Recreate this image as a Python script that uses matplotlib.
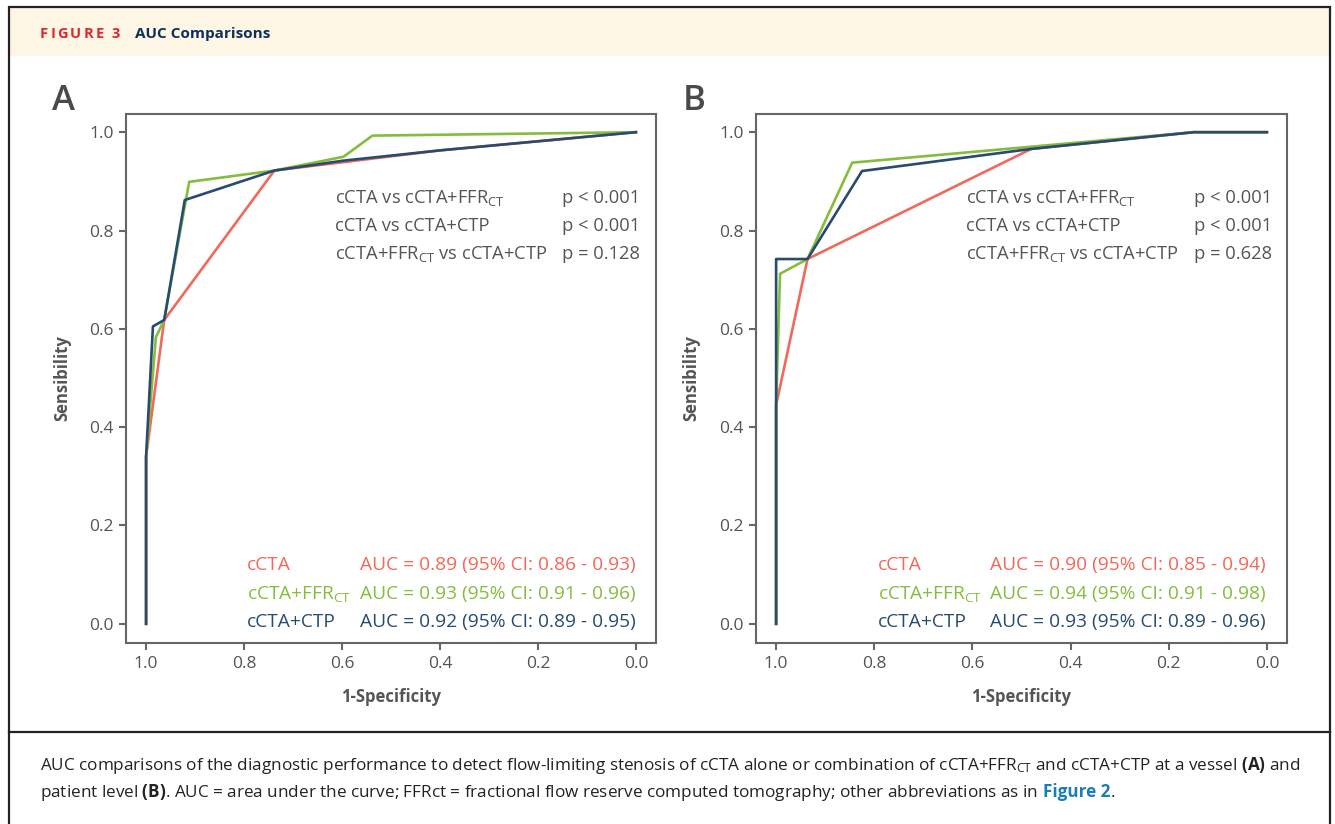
import matplotlib
matplotlib.use("Agg")
import matplotlib.pyplot as plt
from matplotlib.patches import Rectangle
from matplotlib.lines import Line2D

plt.rcParams["font.family"] = ["Open Sans", "DejaVu Sans"]
plt.rcParams["mathtext.fontset"] = "custom"
plt.rcParams["mathtext.rm"] = "Open Sans"
plt.rcParams["mathtext.bf"] = "Open Sans:bold"
plt.rcParams["mathtext.it"] = "Open Sans:italic"

RED = "#F0695A"
GREEN = "#84BD3D"
NAVY = "#284B70"
GRAY = "#555555"
SPINE = "#666666"

# panel A (vessel level): x = 1-specificity axis value, y = sensibility
a_ccta_x = [1.0, 1.0, 0.963, 0.738, 0.40, 0.0]
a_ccta_y = [0.0, 0.34, 0.618, 0.922, 0.963, 1.0]
a_ffr_x = [1.0, 1.0, 0.980, 0.963, 0.912, 0.738, 0.597, 0.538, 0.0]
a_ffr_y = [0.0, 0.34, 0.583, 0.618, 0.899, 0.922, 0.950, 0.993, 1.0]
a_ctp_x = [1.0, 1.0, 0.986, 0.963, 0.921, 0.738, 0.598, 0.40, 0.0]
a_ctp_y = [0.0, 0.34, 0.605, 0.618, 0.862, 0.922, 0.942, 0.963, 1.0]

# panel B (patient level)
b_ccta_x = [1.0, 1.0, 0.936, 0.480, 0.149, 0.0]
b_ccta_y = [0.0, 0.445, 0.742, 0.966, 1.0, 1.0]
b_ffr_x = [1.0, 1.0, 0.992, 0.936, 0.845, 0.149, 0.0]
b_ffr_y = [0.0, 0.445, 0.712, 0.742, 0.938, 1.0, 1.0]
b_ctp_x = [1.0, 1.0, 0.936, 0.825, 0.480, 0.149, 0.0]
b_ctp_y = [0.0, 0.742, 0.742, 0.921, 0.966, 1.0, 1.0]

model_names = ["cCTA", r"cCTA+FFR$_\mathregular{CT}$", "cCTA+CTP"]
model_colors = [RED, GREEN, NAVY]
a_auc = ["AUC = 0.89 (95% CI: 0.86 - 0.93)",
         "AUC = 0.93 (95% CI: 0.91 - 0.96)",
         "AUC = 0.92 (95% CI: 0.89 - 0.95)"]
b_auc = ["AUC = 0.90 (95% CI: 0.85 - 0.94)",
         "AUC = 0.94 (95% CI: 0.91 - 0.98)",
         "AUC = 0.93 (95% CI: 0.89 - 0.96)"]
comparisons = [r"cCTA vs cCTA+FFR$_\mathregular{CT}$",
               "cCTA vs cCTA+CTP",
               r"cCTA+FFR$_\mathregular{CT}$ vs cCTA+CTP"]
a_pvals = ["p < 0.001", "p < 0.001", "p = 0.128"]
b_pvals = ["p < 0.001", "p < 0.001", "p = 0.628"]
ticks = [0.0, 0.2, 0.4, 0.6, 0.8, 1.0]

W, H = 1335, 824
fig = plt.figure(figsize=(W / 100, H / 100), dpi=100)
renderer = fig.canvas.get_renderer()


def fx(px):
    return px / W


def fy(py):
    return 1 - py / H


# frame and header band
fig.patches.append(Rectangle((fx(9), fy(56)), fx(1321), 48 / H, transform=fig.transFigure,
                             facecolor="#FEF6E4", edgecolor="none", zorder=0))
fig.patches.append(Rectangle((fx(9), fy(830)), fx(1321), 823 / H, transform=fig.transFigure,
                             facecolor="none", edgecolor="#222222", lw=1.6, zorder=1))
fig.lines.append(Line2D([fx(9), fx(1330)], [fy(732), fy(732)], transform=fig.transFigure,
                        color="#222222", lw=1.6))

# letter-spaced "FIGURE 3"
xpos = 40
for ch in "FIGURE 3":
    t = fig.text(fx(xpos), fy(38), ch, color="#E2262E", fontsize=10.5, weight="bold", va="baseline")
    xpos = t.get_window_extent(renderer).x1 + 2.2
fig.text(fx(135), fy(38), "AUC Comparisons", color="#0D2F5C", fontsize=11, weight="bold", va="baseline")


def panel(left_px, right_px, letter, letter_px, curves, aucs, pvals, p_right):
    ax = fig.add_axes([fx(left_px), fy(643), (right_px - left_px) / W, 529 / H])
    for (xs, ys), c in zip(curves, model_colors):
        ax.plot(xs, ys, color=c, lw=1.9)
    ax.set_xlim(1.041, -0.041)
    ax.set_ylim(-0.039, 1.037)
    ax.set_xticks(ticks)
    ax.set_yticks(ticks)
    ax.set_xticklabels([f"{t:.1f}" for t in ticks])
    ax.set_yticklabels([f"{t:.1f}" for t in ticks])
    ax.tick_params(colors=SPINE, labelcolor=GRAY, labelsize=12.5, length=5, width=1.5, pad=4)
    for s in ax.spines.values():
        s.set_color(SPINE)
        s.set_linewidth(1.5)
    ax.set_xlabel("1-Specificity", color=GRAY, fontsize=12, weight="bold")
    ax.set_ylabel("Sensibility", color=GRAY, fontsize=12, weight="bold")
    ax.xaxis.set_label_coords(0.5, -0.102)
    ax.xaxis.label.set_va("center")
    ax.yaxis.set_label_coords(-0.121, 0.5)
    ax.yaxis.label.set_va("center")

    for i, (cmp, p) in enumerate(zip(comparisons, pvals)):
        yb = 0.832 - i * 0.053
        ax.text(0.395, yb, cmp, transform=ax.transAxes, color=GRAY, fontsize=13.2, va="baseline")
        ax.text(p_right, yb, p, transform=ax.transAxes, color=GRAY, fontsize=13.2,
                va="baseline", ha="right")
    for i, (nm, auc, c) in enumerate(zip(model_names, aucs, model_colors)):
        yb = 0.138 - i * 0.054
        ax.text(0.229, yb, nm, transform=ax.transAxes, color=c, fontsize=13.8, va="baseline")
        ax.text(0.441, yb, auc, transform=ax.transAxes, color=c, fontsize=13.8, va="baseline")

    fig.text(fx(letter_px), fy(110), letter, color="#4A4A4A", fontsize=25,
             weight="semibold", va="baseline")
    return ax


panel(126, 656, "A", 52,
      [(a_ccta_x, a_ccta_y), (a_ffr_x, a_ffr_y), (a_ctp_x, a_ctp_y)], a_auc, a_pvals, 0.970)
panel(756, 1287, "B", 683,
      [(b_ccta_x, b_ccta_y), (b_ffr_x, b_ffr_y), (b_ctp_x, b_ctp_y)], b_auc, b_pvals, 0.972)

# caption
cap_size = 12.3
cap1 = (r"AUC comparisons of the diagnostic performance to detect flow-limiting stenosis of cCTA alone "
        r"or combination of cCTA+FFR$_\mathregular{CT}$ and cCTA+CTP at a vessel $\mathbf{(A)}$ and")
cap2 = (r"patient level $\mathbf{(B)}$. AUC = area under the curve; FFRct = fractional flow reserve "
        r"computed tomography; other abbreviations as in")
fig.text(fx(40), fy(770), cap1, color="#222222", fontsize=cap_size, va="baseline")
t2 = fig.text(fx(40), fy(797), cap2, color="#222222", fontsize=cap_size, va="baseline")
bb = t2.get_window_extent(renderer)
t3 = fig.text((bb.x1 + 5) / W, fy(797), "Figure 2", color="#1B7DB3", fontsize=cap_size,
              weight="bold", va="baseline")
bb3 = t3.get_window_extent(renderer)
fig.text(bb3.x1 / W, fy(797), ".", color="#222222", fontsize=cap_size, va="baseline")

fig.savefig("out.png", dpi=100)
